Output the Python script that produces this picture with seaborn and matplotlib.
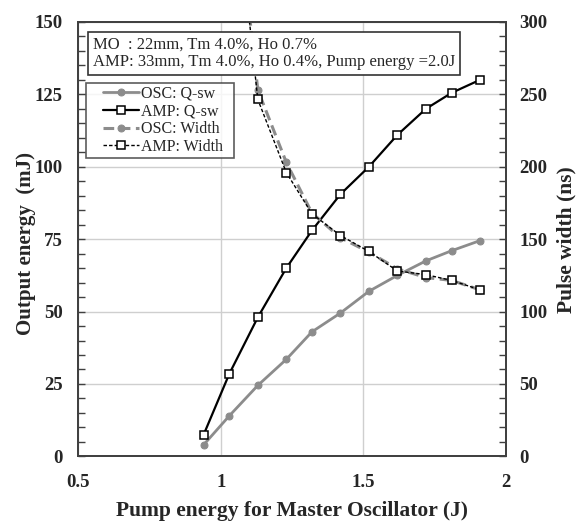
import matplotlib
matplotlib.use("Agg")
import matplotlib.pyplot as plt
import pandas as pd
import seaborn as sns
from matplotlib.ticker import MultipleLocator
from matplotlib.legend_handler import HandlerLine2D

# dados
pump = [0.94, 1.03, 1.13, 1.23, 1.32, 1.42, 1.52, 1.62, 1.72, 1.81, 1.91]
osc_qsw = [4.0, 14.0, 24.5, 33.5, 43.0, 49.5, 57.0, 62.5, 67.5, 71.0, 74.5]
amp_qsw = [7.5, 28.5, 48.0, 65.0, 78.0, 90.5, 100.0, 111.0, 120.0, 125.5, 130.0]
osc_width = [None, 430, 253, 203, 168, 151, 141, 129.5, 123.5, 121.5, 115]
amp_width = [None, 430, 246.5, 196, 167.5, 152.5, 141.5, 128, 125.5, 121.5, 115]

legend_labels = ['OSC: Q-sw', 'AMP: Q-sw', 'OSC: Width', 'AMP: Width']
info_text = ('MO  : 22mm, Tm 4.0%, Ho 0.7%\n'
             'AMP: 33mm, Tm 4.0%, Ho 0.4%, Pump energy =2.0J')

df = pd.DataFrame({'pump': pump, 'osc_qsw': osc_qsw, 'amp_qsw': amp_qsw,
                   'osc_width': osc_width, 'amp_width': amp_width}).astype(float)

sns.set_theme(style="white")
plt.rcParams['font.family'] = ['Liberation Serif', 'DejaVu Serif']
plt.rcParams['xtick.direction'] = 'in'
plt.rcParams['ytick.direction'] = 'in'

GRAY = '#8c8c8c'

fig = plt.figure(figsize=(5.84, 5.21), dpi=100)
ax = fig.add_axes([0.134, 0.124, 0.732, 0.834])
ax2 = ax.twinx()

sns.lineplot(data=df, x='pump', y='osc_qsw', ax=ax, color=GRAY, lw=2,
             marker='o', markersize=5, markeredgecolor=GRAY, label=legend_labels[0], legend=False)
sns.lineplot(data=df, x='pump', y='amp_qsw', ax=ax, color='black', lw=1.6,
             marker='s', markersize=5.5, markerfacecolor='white', markeredgecolor='black',
             markeredgewidth=1.1, label=legend_labels[1], legend=False)
sns.lineplot(data=df, x='pump', y='osc_width', ax=ax2, color=GRAY, lw=2.2,
             linestyle=(0, (3.5, 1.8)), marker='o', markersize=5, markeredgecolor=GRAY,
             label=legend_labels[2], legend=False)
sns.lineplot(data=df, x='pump', y='amp_width', ax=ax2, color='black', lw=1,
             linestyle=(0, (2.5, 1.5)), marker='s', markersize=5.5, markerfacecolor='white',
             markeredgecolor='black', markeredgewidth=1.1, label=legend_labels[3], legend=False)

ax.set_xlim(0.5, 2)
ax.set_ylim(0, 150)
ax2.set_ylim(0, 300)

ax.xaxis.set_major_locator(MultipleLocator(0.5))
ax.xaxis.set_minor_locator(MultipleLocator(0.1))
ax.yaxis.set_major_locator(MultipleLocator(25))
ax.yaxis.set_minor_locator(MultipleLocator(5))
ax2.yaxis.set_major_locator(MultipleLocator(50))
ax2.yaxis.set_minor_locator(MultipleLocator(10))
ax.set_xticks([0.5, 1, 1.5, 2])
ax.set_xticklabels(['0.5', '1', '1.5', '2'])

ax.grid(True, which='major', color='#cfcfcf', lw=1)
ax.set_axisbelow(True)

for a in (ax, ax2):
    for s in a.spines.values():
        s.set_color('#404040')
        s.set_linewidth(1.3)
    a.tick_params(which='both', length=5, width=1, color='#404040', labelsize=13.5)
    for lab in a.get_xticklabels() + a.get_yticklabels():
        lab.set_fontweight('bold')
ax.tick_params(axis='x', pad=13)
ax.tick_params(axis='y', pad=11)
ax2.tick_params(axis='y', pad=10)

ax.set_xlabel('Pump energy for Master Oscillator (J)', fontsize=15.5, fontweight='bold', labelpad=7)
ax.set_ylabel('Output energy  (mJ)', fontsize=15, fontweight='bold')
ax.yaxis.set_label_coords(-0.1, 0.49)
ax2.set_ylabel('Pulse width (ns)', fontsize=15.5, fontweight='bold', labelpad=6)

handles = ax.get_lines()[:2] + ax2.get_lines()[:2]
leg = ax2.legend(handles, [t + '  ' for t in legend_labels], loc='upper left',
                 bbox_to_anchor=(0.019, 0.86),
                 fontsize=11.5, frameon=True, fancybox=False, edgecolor='#333333',
                 handlelength=3.1, handletextpad=0.1, labelspacing=0.1,
                 borderpad=0.2, borderaxespad=0,
                 handler_map={h: HandlerLine2D(xpad=0.85) for h in handles})
leg.get_frame().set_linewidth(1.2)

ax2.text(0.035, 0.965, info_text, transform=ax2.transAxes, fontsize=12,
         va='top', ha='left', linespacing=1.1, zorder=10,
         bbox=dict(boxstyle='square,pad=0.3', fc='white', ec='#333333', lw=1.2))

fig.savefig('out.png', dpi=100)
